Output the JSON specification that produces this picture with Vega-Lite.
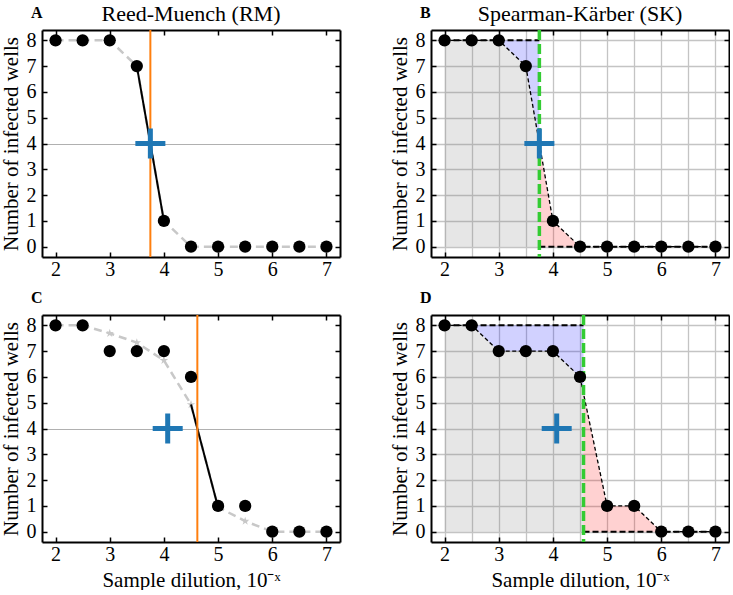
{
  "$schema": "https://vega.github.io/schema/vega-lite/v6.json",
  "padding": {"left": 0, "top": 3, "right": 0, "bottom": 0},
  "columns": 2,
  "spacing": {"row": 58, "column": 91},
  "bounds": "flush",
  "config": {
    "font": "Liberation Serif",
    "text": {"font": "Liberation Serif"},
    "view": {"stroke": null},
    "axis": {"labelFont": "Liberation Serif", "titleFont": "Liberation Serif", "domainColor": "#000", "domainWidth": 2, "tickColor": "#000", "tickWidth": 1.5, "tickSize": -5, "labelFontSize": 20, "labelColor": "#000", "titleFontSize": 21, "titleFontWeight": "normal", "titleColor": "#000", "grid": false, "gridColor": "#c4c4c4", "gridWidth": 1.3}
  },
  "concat": [
    {
      "width": 298, "height": 227,
      "layer": [
        {"data": {"values": [{"x": 2, "y": 8}, {"x": 2.5, "y": 8}, {"x": 3, "y": 8}, {"x": 3.5, "y": 7}, {"x": 4, "y": 1}, {"x": 4.5, "y": 0}, {"x": 5, "y": 0}, {"x": 5.5, "y": 0}, {"x": 6, "y": 0}, {"x": 6.5, "y": 0}, {"x": 7, "y": 0}]},
         "mark": {"type": "line", "color": "#c8c8c8", "strokeWidth": 2.5, "strokeDash": [8, 5]},
         "encoding": {
           "x": {"field": "x", "type": "quantitative", "scale": {"domain": [1.75, 7.25], "nice": false, "zero": false}, "axis": {"orient": "top", "values": [2, 3, 4, 5, 6, 7], "labels": false, "title": null}},
           "y": {"field": "y", "type": "quantitative", "scale": {"domain": [-0.4, 8.4], "nice": false, "zero": false}, "axis": {"orient": "right", "values": [0, 1, 2, 3, 4, 5, 6, 7, 8], "labels": false, "title": null}}}},
        {"data": {"values": [{"x": 3.5, "y": 7}, {"x": 4, "y": 1}]},
         "mark": {"type": "line", "color": "#000", "strokeWidth": 2},
         "encoding": {"x": {"field": "x", "type": "quantitative", "scale": {"domain": [1.75, 7.25], "nice": false, "zero": false}, "axis": null}, "y": {"field": "y", "type": "quantitative", "scale": {"domain": [-0.4, 8.4], "nice": false, "zero": false}, "axis": null}}},
        {"data": {"values": [{"x": 3.75}]}, "mark": {"type": "rule", "color": "#ff7f0e", "strokeWidth": 2},
         "encoding": {"x": {"field": "x", "type": "quantitative", "scale": {"domain": [1.75, 7.25], "nice": false, "zero": false}, "axis": null}}},
        {"data": {"values": [{"x": 2, "y": 8}, {"x": 2.5, "y": 8}, {"x": 3, "y": 8}, {"x": 3.5, "y": 7}, {"x": 4, "y": 1}, {"x": 4.5, "y": 0}, {"x": 5, "y": 0}, {"x": 5.5, "y": 0}, {"x": 6, "y": 0}, {"x": 6.5, "y": 0}, {"x": 7, "y": 0}]},
         "mark": {"type": "point", "filled": true, "color": "#000", "size": 150, "opacity": 1},
         "encoding": {
           "x": {"field": "x", "type": "quantitative", "scale": {"domain": [1.75, 7.25], "nice": false, "zero": false}, "axis": {"orient": "bottom", "values": [2, 3, 4, 5, 6, 7], "labelPadding": 7, "title": null}},
           "y": {"field": "y", "type": "quantitative", "scale": {"domain": [-0.4, 8.4], "nice": false, "zero": false}, "axis": {"orient": "left", "values": [0, 1, 2, 3, 4, 5, 6, 7, 8], "labelPadding": 11, "title": "Number of infected wells", "titlePadding": 5, "grid": true, "gridColor": "#b0b0b0", "gridWidth": 1.2, "gridOpacity": {"condition": {"test": "datum.value === 4", "value": 1}, "value": 0}}}}},
        {"data": {"values": [{"x": 3.75, "y": 4}]},
         "mark": {"type": "point", "shape": "M-1,0L1,0M0,-1L0,1", "size": 900, "filled": false, "stroke": "#1f77b4", "strokeWidth": 5, "opacity": 1},
         "encoding": {"x": {"field": "x", "type": "quantitative", "scale": {"domain": [1.75, 7.25], "nice": false, "zero": false}, "axis": null}, "y": {"field": "y", "type": "quantitative", "scale": {"domain": [-0.4, 8.4], "nice": false, "zero": false}, "axis": null}}},
        {"data": {"values": [{"label": "A"}]},
         "mark": {"type": "text", "font": "Liberation Serif", "fontSize": 16, "fontWeight": "bold", "align": "left", "baseline": "alphabetic", "color": "#000"},
         "encoding": {"text": {"field": "label"}, "x": {"datum": 1.547, "type": "quantitative", "scale": {"domain": [1.75, 7.25], "nice": false, "zero": false}, "axis": null}, "y": {"datum": 8.865, "type": "quantitative", "scale": {"domain": [-0.4, 8.4], "nice": false, "zero": false}, "axis": null}}},
        {"data": {"values": [{"label": "Reed-Muench (RM)"}]},
         "mark": {"type": "text", "font": "Liberation Serif", "fontSize": 22, "align": "center", "baseline": "alphabetic", "color": "#000"},
         "encoding": {"text": {"field": "label"}, "x": {"datum": 4.5, "type": "quantitative", "scale": {"domain": [1.75, 7.25], "nice": false, "zero": false}, "axis": null}, "y": {"datum": 8.737, "type": "quantitative", "scale": {"domain": [-0.4, 8.4], "nice": false, "zero": false}, "axis": null}}}
      ]
    },
    {
      "width": 298, "height": 227,
      "layer": [
        {"data": {"values": [{"x": 2, "y": 8, "y2": 0}, {"x": 2.5, "y": 8, "y2": 0}, {"x": 3, "y": 8, "y2": 0}, {"x": 3.5, "y": 7, "y2": 0}, {"x": 3.75, "y": 4, "y2": 0}]},
         "mark": {"type": "area", "color": "#808080", "opacity": 0.2},
         "encoding": {"x": {"field": "x", "type": "quantitative", "scale": {"domain": [1.75, 7.25], "nice": false, "zero": false}, "axis": null}, "y": {"field": "y", "type": "quantitative", "scale": {"domain": [-0.4, 8.4], "nice": false, "zero": false}, "axis": null}, "y2": {"field": "y2"}}},
        {"data": {"values": [{"x": 3, "y": 8, "y2": 8}, {"x": 3.5, "y": 7, "y2": 8}, {"x": 3.75, "y": 4, "y2": 8}]},
         "mark": {"type": "area", "color": "#0000ff", "opacity": 0.18},
         "encoding": {"x": {"field": "x", "type": "quantitative", "scale": {"domain": [1.75, 7.25], "nice": false, "zero": false}, "axis": null}, "y": {"field": "y", "type": "quantitative", "scale": {"domain": [-0.4, 8.4], "nice": false, "zero": false}, "axis": null}, "y2": {"field": "y2"}}},
        {"data": {"values": [{"x": 3.75, "y": 4, "y2": 0}, {"x": 4, "y": 1, "y2": 0}, {"x": 4.5, "y": 0, "y2": 0}]},
         "mark": {"type": "area", "color": "#ff0000", "opacity": 0.18},
         "encoding": {"x": {"field": "x", "type": "quantitative", "scale": {"domain": [1.75, 7.25], "nice": false, "zero": false}, "axis": null}, "y": {"field": "y", "type": "quantitative", "scale": {"domain": [-0.4, 8.4], "nice": false, "zero": false}, "axis": null}, "y2": {"field": "y2"}}},
        {"data": {"values": [{"x": 2, "y": 8}, {"x": 2.5, "y": 8}, {"x": 3, "y": 8}, {"x": 3.5, "y": 7}, {"x": 4, "y": 1}, {"x": 4.5, "y": 0}, {"x": 5, "y": 0}, {"x": 5.5, "y": 0}, {"x": 6, "y": 0}, {"x": 6.5, "y": 0}, {"x": 7, "y": 0}]},
         "mark": {"type": "line", "color": "#000", "strokeWidth": 1.3, "strokeDash": [4, 2.5]},
         "encoding": {
           "x": {"field": "x", "type": "quantitative", "scale": {"domain": [1.75, 7.25], "nice": false, "zero": false}, "axis": {"orient": "top", "values": [2, 2.5, 3, 3.5, 4, 4.5, 5, 5.5, 6, 6.5, 7], "labels": false, "grid": true, "tickOpacity": {"condition": {"test": "datum.value % 1 === 0", "value": 1}, "value": 0}, "title": null}},
           "y": {"field": "y", "type": "quantitative", "scale": {"domain": [-0.4, 8.4], "nice": false, "zero": false}, "axis": {"orient": "right", "values": [0, 1, 2, 3, 4, 5, 6, 7, 8], "labels": false, "title": null}}}},
        {"data": {"values": [{"x": 2, "y": 8}, {"x": 3.75, "y": 8}]},
         "mark": {"type": "line", "color": "#000", "strokeWidth": 2, "strokeDash": [6, 3]},
         "encoding": {"x": {"field": "x", "type": "quantitative", "scale": {"domain": [1.75, 7.25], "nice": false, "zero": false}, "axis": null}, "y": {"field": "y", "type": "quantitative", "scale": {"domain": [-0.4, 8.4], "nice": false, "zero": false}, "axis": null}}},
        {"data": {"values": [{"x": 3.75, "y": 0}, {"x": 7, "y": 0}]},
         "mark": {"type": "line", "color": "#000", "strokeWidth": 2, "strokeDash": [6, 3]},
         "encoding": {"x": {"field": "x", "type": "quantitative", "scale": {"domain": [1.75, 7.25], "nice": false, "zero": false}, "axis": null}, "y": {"field": "y", "type": "quantitative", "scale": {"domain": [-0.4, 8.4], "nice": false, "zero": false}, "axis": null}}},
        {"data": {"values": [{"x": 3.75}]}, "mark": {"type": "rule", "color": "#33cc33", "strokeWidth": 3.5, "strokeDash": [10, 4]},
         "encoding": {"x": {"field": "x", "type": "quantitative", "scale": {"domain": [1.75, 7.25], "nice": false, "zero": false}, "axis": null}}},
        {"data": {"values": [{"x": 2, "y": 8}, {"x": 2.5, "y": 8}, {"x": 3, "y": 8}, {"x": 3.5, "y": 7}, {"x": 4, "y": 1}, {"x": 4.5, "y": 0}, {"x": 5, "y": 0}, {"x": 5.5, "y": 0}, {"x": 6, "y": 0}, {"x": 6.5, "y": 0}, {"x": 7, "y": 0}]},
         "mark": {"type": "point", "filled": true, "color": "#000", "size": 150, "opacity": 1},
         "encoding": {
           "x": {"field": "x", "type": "quantitative", "scale": {"domain": [1.75, 7.25], "nice": false, "zero": false}, "axis": {"orient": "bottom", "values": [2, 3, 4, 5, 6, 7], "labelPadding": 7, "title": null}},
           "y": {"field": "y", "type": "quantitative", "scale": {"domain": [-0.4, 8.4], "nice": false, "zero": false}, "axis": {"orient": "left", "values": [0, 1, 2, 3, 4, 5, 6, 7, 8], "grid": true, "labelPadding": 11, "title": "Number of infected wells", "titlePadding": 5}}}},
        {"data": {"values": [{"x": 3.75, "y": 4}]},
         "mark": {"type": "point", "shape": "M-1,0L1,0M0,-1L0,1", "size": 900, "filled": false, "stroke": "#1f77b4", "strokeWidth": 5, "opacity": 1},
         "encoding": {"x": {"field": "x", "type": "quantitative", "scale": {"domain": [1.75, 7.25], "nice": false, "zero": false}, "axis": null}, "y": {"field": "y", "type": "quantitative", "scale": {"domain": [-0.4, 8.4], "nice": false, "zero": false}, "axis": null}}},
        {"data": {"values": [{"label": "B"}]},
         "mark": {"type": "text", "font": "Liberation Serif", "fontSize": 16, "fontWeight": "bold", "align": "left", "baseline": "alphabetic", "color": "#000"},
         "encoding": {"text": {"field": "label"}, "x": {"datum": 1.547, "type": "quantitative", "scale": {"domain": [1.75, 7.25], "nice": false, "zero": false}, "axis": null}, "y": {"datum": 8.865, "type": "quantitative", "scale": {"domain": [-0.4, 8.4], "nice": false, "zero": false}, "axis": null}}},
        {"data": {"values": [{"label": "Spearman-Kärber (SK)"}]},
         "mark": {"type": "text", "font": "Liberation Serif", "fontSize": 22, "align": "center", "baseline": "alphabetic", "color": "#000"},
         "encoding": {"text": {"field": "label"}, "x": {"datum": 4.5, "type": "quantitative", "scale": {"domain": [1.75, 7.25], "nice": false, "zero": false}, "axis": null}, "y": {"datum": 8.737, "type": "quantitative", "scale": {"domain": [-0.4, 8.4], "nice": false, "zero": false}, "axis": null}}}
      ]
    },
    {
      "width": 298, "height": 227,
      "layer": [
        {"data": {"values": [{"x": 2, "y": 8}, {"x": 2.5, "y": 8}, {"x": 3, "y": 7.69}, {"x": 3.5, "y": 7.33}, {"x": 4, "y": 6.64}, {"x": 4.5, "y": 4.93}, {"x": 5, "y": 0.95}, {"x": 5.5, "y": 0.41}, {"x": 6, "y": 0}, {"x": 6.5, "y": 0}, {"x": 7, "y": 0}]},
         "mark": {"type": "line", "color": "#c8c8c8", "strokeWidth": 2.5, "strokeDash": [8, 5]},
         "encoding": {
           "x": {"field": "x", "type": "quantitative", "scale": {"domain": [1.75, 7.25], "nice": false, "zero": false}, "axis": {"orient": "top", "values": [2, 3, 4, 5, 6, 7], "labels": false, "title": null}},
           "y": {"field": "y", "type": "quantitative", "scale": {"domain": [-0.4, 8.4], "nice": false, "zero": false}, "axis": {"orient": "right", "values": [0, 1, 2, 3, 4, 5, 6, 7, 8], "labels": false, "title": null}}}},
        {"data": {"values": [{"x": 3, "y": 7.69}, {"x": 3.5, "y": 7.33}, {"x": 4, "y": 6.64}, {"x": 4.5, "y": 4.93}, {"x": 5.5, "y": 0.41}]},
         "mark": {"type": "point", "shape": "M0,-1L0.2245,-0.309L0.951,-0.309L0.363,0.118L0.588,0.809L0,0.382L-0.588,0.809L-0.363,0.118L-0.951,-0.309L-0.2245,-0.309Z", "size": 80, "filled": true, "color": "#c8c8c8", "opacity": 1},
         "encoding": {"x": {"field": "x", "type": "quantitative", "scale": {"domain": [1.75, 7.25], "nice": false, "zero": false}, "axis": null}, "y": {"field": "y", "type": "quantitative", "scale": {"domain": [-0.4, 8.4], "nice": false, "zero": false}, "axis": null}}},
        {"data": {"values": [{"x": 4.5, "y": 4.93}, {"x": 5, "y": 0.95}]},
         "mark": {"type": "line", "color": "#000", "strokeWidth": 2},
         "encoding": {"x": {"field": "x", "type": "quantitative", "scale": {"domain": [1.75, 7.25], "nice": false, "zero": false}, "axis": null}, "y": {"field": "y", "type": "quantitative", "scale": {"domain": [-0.4, 8.4], "nice": false, "zero": false}, "axis": null}}},
        {"data": {"values": [{"x": 4.617}]}, "mark": {"type": "rule", "color": "#ff7f0e", "strokeWidth": 2},
         "encoding": {"x": {"field": "x", "type": "quantitative", "scale": {"domain": [1.75, 7.25], "nice": false, "zero": false}, "axis": null}}},
        {"data": {"values": [{"x": 2, "y": 8}, {"x": 2.5, "y": 8}, {"x": 3, "y": 7}, {"x": 3.5, "y": 7}, {"x": 4, "y": 7}, {"x": 4.5, "y": 6}, {"x": 5, "y": 1}, {"x": 5.5, "y": 1}, {"x": 6, "y": 0}, {"x": 6.5, "y": 0}, {"x": 7, "y": 0}]},
         "mark": {"type": "point", "filled": true, "color": "#000", "size": 150, "opacity": 1},
         "encoding": {
           "x": {"field": "x", "type": "quantitative", "scale": {"domain": [1.75, 7.25], "nice": false, "zero": false}, "axis": {"orient": "bottom", "values": [2, 3, 4, 5, 6, 7], "labelPadding": 7, "title": "Sample dilution, 10⁻ˣ", "titlePadding": 5}},
           "y": {"field": "y", "type": "quantitative", "scale": {"domain": [-0.4, 8.4], "nice": false, "zero": false}, "axis": {"orient": "left", "values": [0, 1, 2, 3, 4, 5, 6, 7, 8], "labelPadding": 11, "title": "Number of infected wells", "titlePadding": 5, "grid": true, "gridColor": "#b0b0b0", "gridWidth": 1.2, "gridOpacity": {"condition": {"test": "datum.value === 4", "value": 1}, "value": 0}}}}},
        {"data": {"values": [{"x": 4.07, "y": 4}]},
         "mark": {"type": "point", "shape": "M-1,0L1,0M0,-1L0,1", "size": 900, "filled": false, "stroke": "#1f77b4", "strokeWidth": 5, "opacity": 1},
         "encoding": {"x": {"field": "x", "type": "quantitative", "scale": {"domain": [1.75, 7.25], "nice": false, "zero": false}, "axis": null}, "y": {"field": "y", "type": "quantitative", "scale": {"domain": [-0.4, 8.4], "nice": false, "zero": false}, "axis": null}}},
        {"data": {"values": [{"label": "C"}]},
         "mark": {"type": "text", "font": "Liberation Serif", "fontSize": 16, "fontWeight": "bold", "align": "left", "baseline": "alphabetic", "color": "#000"},
         "encoding": {"text": {"field": "label"}, "x": {"datum": 1.547, "type": "quantitative", "scale": {"domain": [1.75, 7.25], "nice": false, "zero": false}, "axis": null}, "y": {"datum": 8.865, "type": "quantitative", "scale": {"domain": [-0.4, 8.4], "nice": false, "zero": false}, "axis": null}}}
      ]
    },
    {
      "width": 298, "height": 227,
      "layer": [
        {"data": {"values": [{"x": 2, "y": 8, "y2": 0}, {"x": 2.5, "y": 8, "y2": 0}, {"x": 3, "y": 7, "y2": 0}, {"x": 3.5, "y": 7, "y2": 0}, {"x": 4, "y": 7, "y2": 0}, {"x": 4.5, "y": 6, "y2": 0}, {"x": 4.565, "y": 5.35, "y2": 0}]},
         "mark": {"type": "area", "color": "#808080", "opacity": 0.2},
         "encoding": {"x": {"field": "x", "type": "quantitative", "scale": {"domain": [1.75, 7.25], "nice": false, "zero": false}, "axis": null}, "y": {"field": "y", "type": "quantitative", "scale": {"domain": [-0.4, 8.4], "nice": false, "zero": false}, "axis": null}, "y2": {"field": "y2"}}},
        {"data": {"values": [{"x": 2.5, "y": 8, "y2": 8}, {"x": 3, "y": 7, "y2": 8}, {"x": 3.5, "y": 7, "y2": 8}, {"x": 4, "y": 7, "y2": 8}, {"x": 4.5, "y": 6, "y2": 8}, {"x": 4.565, "y": 5.35, "y2": 8}]},
         "mark": {"type": "area", "color": "#0000ff", "opacity": 0.18},
         "encoding": {"x": {"field": "x", "type": "quantitative", "scale": {"domain": [1.75, 7.25], "nice": false, "zero": false}, "axis": null}, "y": {"field": "y", "type": "quantitative", "scale": {"domain": [-0.4, 8.4], "nice": false, "zero": false}, "axis": null}, "y2": {"field": "y2"}}},
        {"data": {"values": [{"x": 4.565, "y": 5.35, "y2": 0}, {"x": 5, "y": 1, "y2": 0}, {"x": 5.5, "y": 1, "y2": 0}, {"x": 6, "y": 0, "y2": 0}]},
         "mark": {"type": "area", "color": "#ff0000", "opacity": 0.18},
         "encoding": {"x": {"field": "x", "type": "quantitative", "scale": {"domain": [1.75, 7.25], "nice": false, "zero": false}, "axis": null}, "y": {"field": "y", "type": "quantitative", "scale": {"domain": [-0.4, 8.4], "nice": false, "zero": false}, "axis": null}, "y2": {"field": "y2"}}},
        {"data": {"values": [{"x": 2, "y": 8}, {"x": 2.5, "y": 8}, {"x": 3, "y": 7}, {"x": 3.5, "y": 7}, {"x": 4, "y": 7}, {"x": 4.5, "y": 6}, {"x": 5, "y": 1}, {"x": 5.5, "y": 1}, {"x": 6, "y": 0}, {"x": 6.5, "y": 0}, {"x": 7, "y": 0}]},
         "mark": {"type": "line", "color": "#000", "strokeWidth": 1.3, "strokeDash": [4, 2.5]},
         "encoding": {
           "x": {"field": "x", "type": "quantitative", "scale": {"domain": [1.75, 7.25], "nice": false, "zero": false}, "axis": {"orient": "top", "values": [2, 2.5, 3, 3.5, 4, 4.5, 5, 5.5, 6, 6.5, 7], "labels": false, "grid": true, "tickOpacity": {"condition": {"test": "datum.value % 1 === 0", "value": 1}, "value": 0}, "title": null}},
           "y": {"field": "y", "type": "quantitative", "scale": {"domain": [-0.4, 8.4], "nice": false, "zero": false}, "axis": {"orient": "right", "values": [0, 1, 2, 3, 4, 5, 6, 7, 8], "labels": false, "title": null}}}},
        {"data": {"values": [{"x": 2, "y": 8}, {"x": 4.565, "y": 8}]},
         "mark": {"type": "line", "color": "#000", "strokeWidth": 2, "strokeDash": [6, 3]},
         "encoding": {"x": {"field": "x", "type": "quantitative", "scale": {"domain": [1.75, 7.25], "nice": false, "zero": false}, "axis": null}, "y": {"field": "y", "type": "quantitative", "scale": {"domain": [-0.4, 8.4], "nice": false, "zero": false}, "axis": null}}},
        {"data": {"values": [{"x": 4.565, "y": 0}, {"x": 7, "y": 0}]},
         "mark": {"type": "line", "color": "#000", "strokeWidth": 2, "strokeDash": [6, 3]},
         "encoding": {"x": {"field": "x", "type": "quantitative", "scale": {"domain": [1.75, 7.25], "nice": false, "zero": false}, "axis": null}, "y": {"field": "y", "type": "quantitative", "scale": {"domain": [-0.4, 8.4], "nice": false, "zero": false}, "axis": null}}},
        {"data": {"values": [{"x": 4.565}]}, "mark": {"type": "rule", "color": "#33cc33", "strokeWidth": 3.5, "strokeDash": [10, 4]},
         "encoding": {"x": {"field": "x", "type": "quantitative", "scale": {"domain": [1.75, 7.25], "nice": false, "zero": false}, "axis": null}}},
        {"data": {"values": [{"x": 2, "y": 8}, {"x": 2.5, "y": 8}, {"x": 3, "y": 7}, {"x": 3.5, "y": 7}, {"x": 4, "y": 7}, {"x": 4.5, "y": 6}, {"x": 5, "y": 1}, {"x": 5.5, "y": 1}, {"x": 6, "y": 0}, {"x": 6.5, "y": 0}, {"x": 7, "y": 0}]},
         "mark": {"type": "point", "filled": true, "color": "#000", "size": 150, "opacity": 1},
         "encoding": {
           "x": {"field": "x", "type": "quantitative", "scale": {"domain": [1.75, 7.25], "nice": false, "zero": false}, "axis": {"orient": "bottom", "values": [2, 3, 4, 5, 6, 7], "labelPadding": 7, "title": "Sample dilution, 10⁻ˣ", "titlePadding": 5}},
           "y": {"field": "y", "type": "quantitative", "scale": {"domain": [-0.4, 8.4], "nice": false, "zero": false}, "axis": {"orient": "left", "values": [0, 1, 2, 3, 4, 5, 6, 7, 8], "grid": true, "labelPadding": 11, "title": "Number of infected wells", "titlePadding": 5}}}},
        {"data": {"values": [{"x": 4.07, "y": 4}]},
         "mark": {"type": "point", "shape": "M-1,0L1,0M0,-1L0,1", "size": 900, "filled": false, "stroke": "#1f77b4", "strokeWidth": 5, "opacity": 1},
         "encoding": {"x": {"field": "x", "type": "quantitative", "scale": {"domain": [1.75, 7.25], "nice": false, "zero": false}, "axis": null}, "y": {"field": "y", "type": "quantitative", "scale": {"domain": [-0.4, 8.4], "nice": false, "zero": false}, "axis": null}}},
        {"data": {"values": [{"label": "D"}]},
         "mark": {"type": "text", "font": "Liberation Serif", "fontSize": 16, "fontWeight": "bold", "align": "left", "baseline": "alphabetic", "color": "#000"},
         "encoding": {"text": {"field": "label"}, "x": {"datum": 1.547, "type": "quantitative", "scale": {"domain": [1.75, 7.25], "nice": false, "zero": false}, "axis": null}, "y": {"datum": 8.865, "type": "quantitative", "scale": {"domain": [-0.4, 8.4], "nice": false, "zero": false}, "axis": null}}}
      ]
    }
  ]
}
